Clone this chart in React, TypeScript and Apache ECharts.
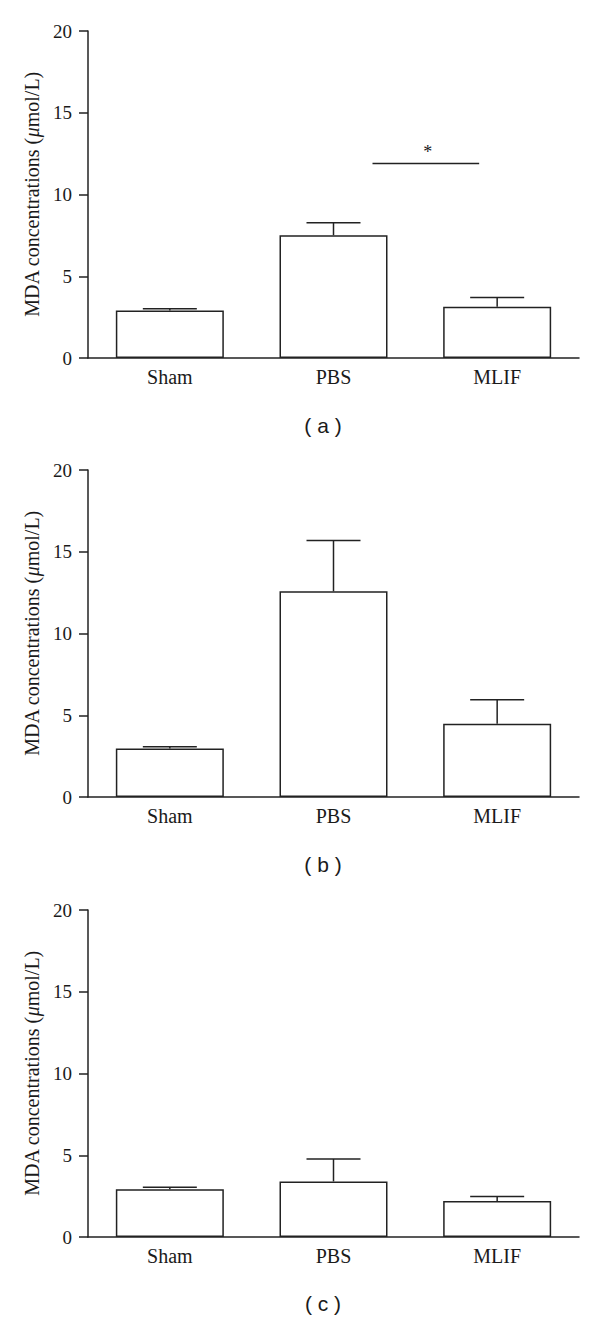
import React, { useEffect, useRef } from "react";
import * as echarts from "echarts";

const categories = ["Sham", "PBS", "MLIF"];
const yTicks = [0, 5, 10, 15, 20];
const panelLabels = ["( a )", "( b )", "( c )"];

const meansA = [2.91, 7.51, 3.13];
const semA = [0.1, 0.76, 0.57];
const meansB = [2.97, 12.58, 4.48];
const semB = [0.11, 3.11, 1.47];
const meansC = [2.92, 3.4, 2.2];
const semC = [0.12, 1.37, 0.27];

// significance bracket in panel (a): between PBS and MLIF at y value
const sigLevelA = 11.9;
const sigMark = "*";

const yAxisName = "MDA concentrations ({i|\u03bc}mol/L)";

const panels = [
  { means: meansA, sem: semA },
  { means: meansB, sem: semB },
  { means: meansC, sem: semC },
];

const LINE = "#222";
const TEXT = "#1a1a1a";
const SERIF = "'Liberation Serif', 'Times New Roman', serif";
const SANS = "'Liberation Sans', Arial, sans-serif";

const gridTops = [31, 470, 910];
const GRID_H = 327;

export default function App() {
  const ref = useRef<HTMLDivElement>(null);

  useEffect(() => {
    document.body.style.margin = "0";
    if (!ref.current) return;
    const chart = echarts.init(ref.current, null, { renderer: "svg" });

    const grids = gridTops.map((t) => ({ left: 88, width: 491, top: t, height: GRID_H }));

    const xAxes = gridTops.map((_, i) => ({
      type: "category",
      gridIndex: i,
      data: categories,
      boundaryGap: true,
      axisLine: { show: true, lineStyle: { color: LINE, width: 1.5 } },
      axisTick: { show: false },
      axisLabel: { color: TEXT, fontFamily: SERIF, fontSize: 20, margin: 9 },
      splitLine: { show: false },
    }));

    const yAxes = gridTops.map((_, i) => ({
      type: "value",
      gridIndex: i,
      min: yTicks[0],
      max: yTicks[yTicks.length - 1],
      interval: 5,
      name: yAxisName,
      nameLocation: "middle",
      nameGap: 46,
      nameRotate: 90,
      nameTextStyle: {
        color: TEXT,
        fontFamily: SERIF,
        fontSize: 20,
        rich: { i: { fontStyle: "italic", fontFamily: SERIF, fontSize: 20, color: TEXT } },
      },
      axisLine: { show: true, lineStyle: { color: LINE, width: 1.5 } },
      axisTick: { show: true, inside: false, length: 9, lineStyle: { color: LINE, width: 1.5 } },
      axisLabel: { color: TEXT, fontFamily: SERIF, fontSize: 19, margin: 16 },
      splitLine: { show: false },
    }));

    const series: any[] = [];
    panels.forEach((p, i) => {
      series.push({
        type: "bar",
        xAxisIndex: i,
        yAxisIndex: i,
        data: p.means,
        barWidth: 108,
        itemStyle: { color: "#fff", borderColor: LINE, borderWidth: 1.5 },
        z: 2,
      });
      series.push({
        type: "custom",
        xAxisIndex: i,
        yAxisIndex: i,
        z: 3,
        data: p.means.map((m, j) => [j, m, m + p.sem[j]]),
        renderItem: (params: any, api: any) => {
          const base = api.coord([api.value(0), api.value(1)]);
          const top = api.coord([api.value(0), api.value(2)]);
          const hw = 27;
          return {
            type: "group",
            children: [
              {
                type: "line",
                shape: { x1: base[0], y1: base[1], x2: top[0], y2: top[1] },
                style: { stroke: LINE, lineWidth: 1.5 },
              },
              {
                type: "line",
                shape: { x1: top[0] - hw, y1: top[1], x2: top[0] + hw, y2: top[1] },
                style: { stroke: LINE, lineWidth: 1.5 },
              },
            ],
          };
        },
      });
    });

    // significance line (panel a)
    series.push({
      type: "custom",
      xAxisIndex: 0,
      yAxisIndex: 0,
      z: 3,
      data: [[1, 2, sigLevelA]],
      renderItem: (params: any, api: any) => {
        const p1 = api.coord([api.value(0), api.value(2)]);
        const p2 = api.coord([api.value(1), api.value(2)]);
        const x1 = p1[0] + 39;
        const x2 = p2[0] - 18;
        return {
          type: "group",
          children: [
            {
              type: "line",
              shape: { x1, y1: p1[1], x2, y2: p1[1] },
              style: { stroke: LINE, lineWidth: 1.5 },
            },
            {
              type: "text",
              x: (x1 + x2) / 2 + 2,
              y: p1[1] - 2,
              style: {
                text: sigMark,
                fill: TEXT,
                font: `18px ${SERIF}`,
                textAlign: "center",
                textVerticalAlign: "bottom",
              },
            },
          ],
        };
      },
    });

    const captionYs = [425, 864, 1303];
    const graphic = panelLabels.map((t, i) => ({
      type: "text",
      x: 323,
      y: captionYs[i],
      style: {
        text: t,
        fill: TEXT,
        font: `21px ${SANS}`,
        textAlign: "center",
        textVerticalAlign: "middle",
      },
    }));

    chart.setOption({
      animation: false,
      backgroundColor: "#fff",
      grid: grids,
      xAxis: xAxes,
      yAxis: yAxes,
      series,
      graphic,
    });

    return () => chart.dispose();
  }, []);

  return <div ref={ref} style={{ width: 600, height: 1318 }} />;
}
